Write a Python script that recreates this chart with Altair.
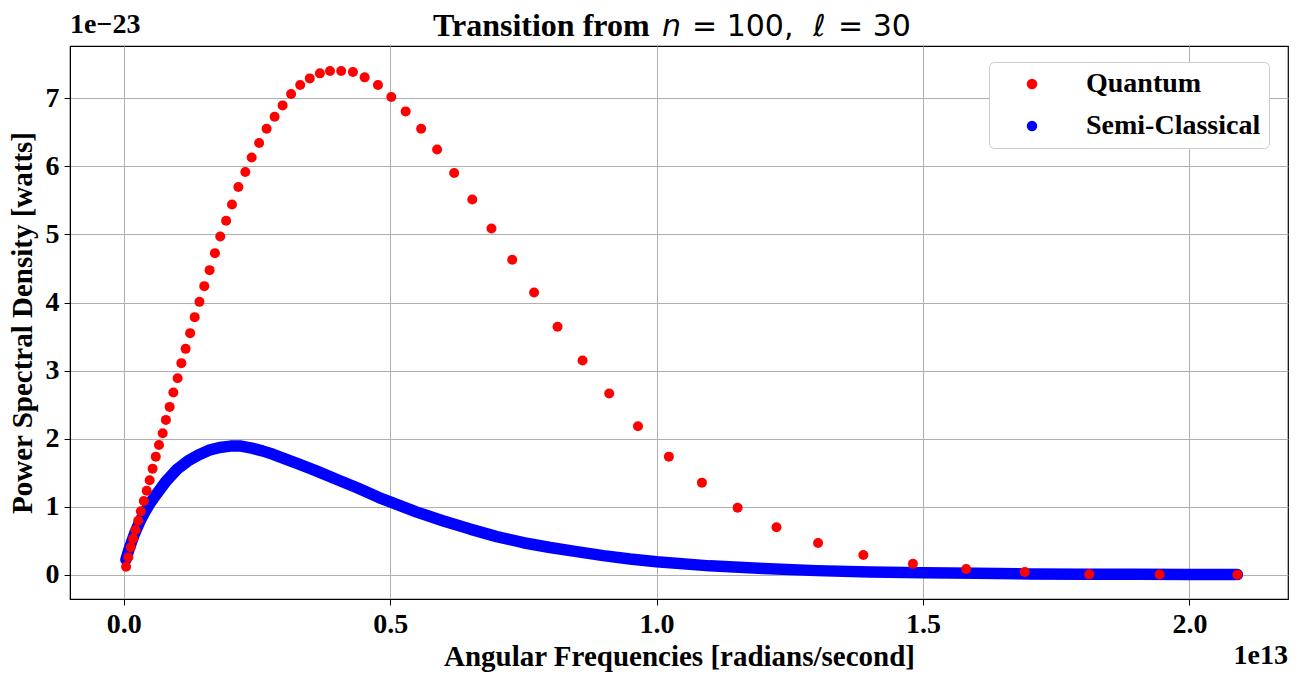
import altair as alt
import pandas as pd

# Quantum transitions (x in units of 1e13 rad/s, y in units of 1e-23 W)
quantum_x = [2.090, 1.944, 1.812, 1.691, 1.581, 1.481, 1.388, 1.303, 1.225, 1.152,
             1.085, 1.023, 0.965, 0.911, 0.861, 0.814, 0.770, 0.729, 0.690, 0.654,
             0.620, 0.588, 0.558, 0.529, 0.502, 0.477, 0.452, 0.430, 0.408, 0.387,
             0.368, 0.349, 0.331, 0.314, 0.298, 0.283, 0.268, 0.254, 0.240, 0.228,
             0.215, 0.203, 0.192, 0.181, 0.171, 0.161, 0.151, 0.142, 0.133, 0.1245,
             0.116, 0.108, 0.101, 0.093, 0.086, 0.079, 0.073, 0.066, 0.060, 0.054,
             0.0485, 0.043, 0.0375, 0.032, 0.027, 0.022, 0.0176, 0.013, 0.0085, 0.0042]
quantum_y = [0.001, 0.002, 0.005, 0.040, 0.085, 0.160, 0.290, 0.466, 0.697, 0.985,
             1.353, 1.735, 2.182, 2.662, 3.147, 3.643, 4.147, 4.628, 5.088, 5.515,
             5.903, 6.250, 6.554, 6.809, 7.021, 7.197, 7.309, 7.388, 7.403, 7.403,
             7.368, 7.294, 7.197, 7.065, 6.897, 6.731, 6.554, 6.344, 6.132, 5.918,
             5.697, 5.441, 5.201, 4.971, 4.726, 4.476, 4.241, 4.010, 3.785, 3.550,
             3.319, 3.109, 2.888, 2.677, 2.466, 2.275, 2.079, 1.907, 1.735, 1.559,
             1.388, 1.235, 1.084, 0.932, 0.794, 0.657, 0.529, 0.403, 0.256, 0.118]

# Semi-classical spectrum read along the band
semi_x = [0.004, 0.01, 0.02, 0.03, 0.04, 0.05, 0.06, 0.08, 0.10, 0.12, 0.14, 0.16,
          0.18, 0.20, 0.22, 0.24, 0.26, 0.28, 0.30, 0.33, 0.36, 0.40, 0.44, 0.48,
          0.50, 0.55, 0.60, 0.65, 0.70, 0.75, 0.80, 0.85, 0.90, 0.95, 1.00, 1.10,
          1.20, 1.30, 1.40, 1.50, 1.60, 1.70, 1.80, 1.90, 2.00, 2.09]
semi_y = [0.22, 0.38, 0.60, 0.78, 0.93, 1.06, 1.17, 1.38, 1.55, 1.67, 1.76, 1.83,
          1.87, 1.89, 1.89, 1.86, 1.82, 1.77, 1.71, 1.62, 1.53, 1.40, 1.27, 1.13,
          1.07, 0.92, 0.79, 0.67, 0.56, 0.47, 0.40, 0.34, 0.28, 0.23, 0.19, 0.13,
          0.09, 0.06, 0.04, 0.03, 0.02, 0.012, 0.008, 0.005, 0.003, 0.002]

series_names = ["Quantum", "Semi-Classical"]
series_colors = ["#ff0000", "#0000ff"]
x_ticks = [0.0, 0.5, 1.0, 1.5, 2.0]
y_ticks = [0, 1, 2, 3, 4, 5, 6, 7]

qdf = pd.DataFrame({"x": quantum_x, "y": quantum_y, "series": "Quantum"})
sdf = pd.DataFrame({"x": semi_x, "y": semi_y, "series": "Semi-Classical"})

FONT = "Liberation Serif"
MATH = "DejaVu Sans"

xs = alt.Scale(domain=[-0.101, 2.185], nice=False, zero=False)
ys = alt.Scale(domain=[-0.357, 7.77], nice=False, zero=False)
cs = alt.Scale(domain=series_names, range=series_colors)

xenc = alt.X("x:Q", scale=xs, axis=alt.Axis(values=x_ticks, format=".1f",
                                            title="Angular Frequencies [radians/second]"))
yenc = alt.Y("y:Q", scale=ys, axis=alt.Axis(values=y_ticks, format="d",
                                            title="Power Spectral Density [watts]"))
cenc = alt.Color("series:N", scale=cs,
                 legend=alt.Legend(title=None, symbolType="circle", labelLimit=400))

semi_line = alt.Chart(sdf).mark_line(strokeWidth=11.5, strokeCap="round",
                                     strokeJoin="round").encode(
    x=xenc, y=yenc, color=cenc)
semi_pts = alt.Chart(sdf).mark_circle(size=100, opacity=1).encode(
    x=xenc, y=yenc, color=cenc)
quant_pts = alt.Chart(qdf).mark_circle(size=100, opacity=1).encode(
    x=xenc, y=yenc, color=cenc)


def label(text, x, y, font=FONT, size=28, weight="bold", style="normal",
          align="left", baseline="alphabetic"):
    return alt.Chart(pd.DataFrame({"t": [text]})).mark_text(
        font=font, fontSize=size, fontWeight=weight, fontStyle=style,
        align=align, baseline=baseline, color="black").encode(
        text="t:N", x=alt.value(x), y=alt.value(y))


texts = [
    label("1e\u221223", 0, -7, baseline="bottom"),
    label("1e13", 1218, 610, align="right", baseline="middle"),
    label("Transition from", 363, -10, size=32),
    label("n", 592, -10, font=MATH, size=30, weight="normal", style="italic"),
    label("= 100,", 622, -10, font=MATH, size=30, weight="normal"),
    label("\u2113", 743, -10, font=MATH, size=30, weight="normal", style="italic"),
    label("= 30", 768, -10, font=MATH, size=30, weight="normal"),
]

chart = alt.layer(semi_line, semi_pts, quant_pts, *texts).properties(
    width=1218, height=553,
    autosize=alt.AutoSizeParams(type="none"),
    padding={"left": 70, "top": 46, "right": 14, "bottom": 76},
).configure_view(stroke="black", strokeWidth=1.2).configure_axis(
    labelFont=FONT, labelFontSize=28, labelFontWeight="bold", labelColor="black",
    titleFont=FONT, titleFontSize=29, titleFontWeight="bold", titleColor="black",
    gridColor="#b0b0b0", gridWidth=1, domainColor="black", tickColor="black",
    tickSize=6, labelPadding=5,
).configure_axisX(titlePadding=4).configure_axisY(titlePadding=8).configure_legend(
    orient="none", legendX=919, legendY=16, padding=8, strokeColor="#cccccc",
    fillColor="white", cornerRadius=5, symbolSize=110, symbolOffset=21,
    labelOffset=40, rowPadding=14, labelFont=FONT, labelFontSize=28,
    labelFontWeight="bold", labelColor="black", symbolStrokeWidth=0,
)

chart.save("out.html", embed_options={"renderer": "svg", "actions": False})
